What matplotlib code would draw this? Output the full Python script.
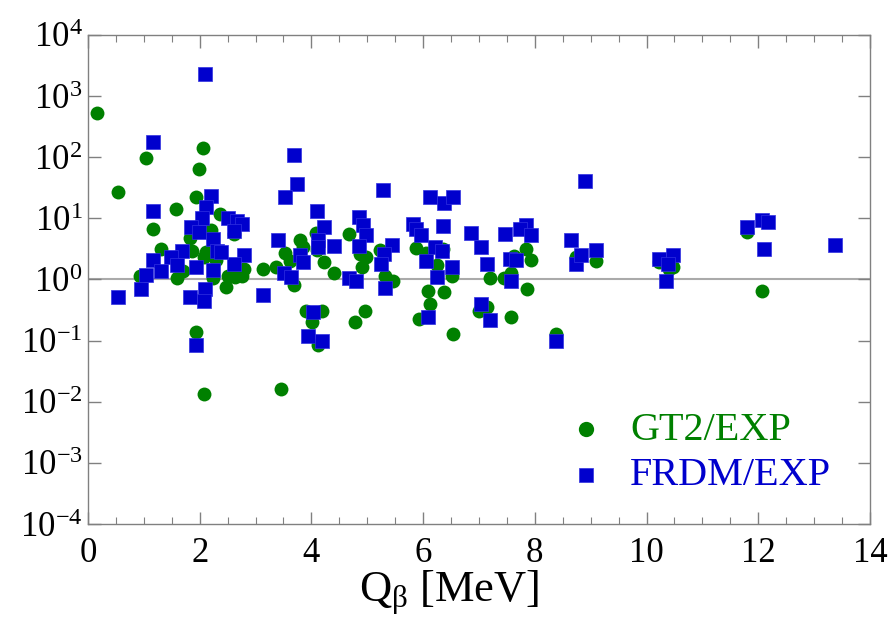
import matplotlib
matplotlib.use("Agg")
import matplotlib.pyplot as plt
import numpy as np

plt.rcParams['font.family'] = ['Liberation Serif', 'DejaVu Serif']
plt.rcParams['mathtext.fontset'] = 'custom'
plt.rcParams['mathtext.rm'] = 'Liberation Serif'
plt.rcParams['mathtext.it'] = 'Liberation Serif:italic'

# GT2/EXP ratios vs Q_beta
gt2_q = [0.17, 2.06, 1.04, 1.99, 0.53, 1.94, 1.57, 2.36, 2.62, 1.16,
         2.21, 1.82, 1.31, 1.87, 2.12, 2.08, 3.52, 2.30, 2.79, 3.14,
         3.37, 1.71, 0.93, 1.59, 2.23, 2.50, 2.63, 2.75, 3.69, 2.48,
         1.94, 2.08, 3.45, 3.79, 4.09, 4.67, 4.10, 3.85, 3.61, 4.23,
         4.40, 4.87, 4.97, 4.91, 5.22, 5.31, 5.46, 5.88, 6.06, 6.36,
         6.24, 6.52, 6.08, 6.37, 6.13, 5.93, 6.54, 7.00, 3.91, 4.19,
         4.01, 4.96, 4.78, 4.12, 7.84, 7.94, 7.57, 7.20, 7.45, 7.86,
         7.14, 7.58, 8.38, 8.74, 9.09, 10.22, 10.48, 10.40, 11.79, 12.06,
         7.62]
gt2_ratio = [520, 144, 97, 65, 27, 22, 14, 12, 5.5, 6.6,
             6.4, 4.7, 3.2, 2.9, 2.8, 2.3, 2.7, 2.1, 1.5, 1.5,
             1.6, 1.4, 1.16, 1.05, 1.05, 1.16, 1.1, 1.16, 0.8, 0.76,
             0.14, 0.0134, 0.016, 4.4, 5.8, 5.6, 3.0, 3.4, 2.0, 1.9,
             1.3, 2.6, 2.3, 1.6, 3.0, 1.16, 0.93, 3.3, 2.7, 3.2,
             1.7, 1.16, 0.66, 0.63, 0.4, 0.23, 0.13, 0.31, 0.3, 0.3,
             0.2, 0.3, 0.2, 0.085, 3.2, 2.1, 1.3, 1.05, 1.05, 0.71,
             0.36, 0.24, 0.13, 2.3, 2.0, 1.9, 1.6, 1.5, 6.0, 0.66,
             2.4]

# FRDM/EXP ratios vs Q_beta
frdm_q = [2.09, 1.17, 3.69, 3.74, 3.52, 2.20, 1.16, 2.11, 2.05, 2.50,
          2.66, 2.76, 2.62, 1.85, 1.99, 2.24, 3.40, 1.69, 2.31, 2.80,
          1.16, 1.49, 2.62, 1.59, 1.94, 1.31, 2.23, 3.51, 3.64, 1.04,
          0.53, 0.95, 1.83, 2.09, 2.07, 3.14, 1.94, 5.28, 4.10, 6.13,
          6.37, 6.54, 4.85, 4.92, 4.97, 4.23, 5.82, 5.88, 5.96, 6.36,
          6.86, 4.11, 4.11, 4.40, 3.80, 3.85, 4.85, 5.45, 5.30, 5.24,
          5.32, 4.67, 4.79, 6.22, 6.33, 6.05, 6.52, 6.24, 6.08, 7.03,
          7.03, 4.02, 3.94, 4.19, 8.90, 7.47, 7.84, 7.73, 7.94, 8.64,
          7.15, 7.56, 7.66, 7.58, 7.20, 8.38, 8.74, 8.83, 9.09, 10.22,
          10.48, 10.39, 10.35, 11.79, 12.06, 12.18, 12.11, 13.37, 2.38]
frdm_ratio = [2270, 175, 110, 36, 22, 23, 13, 15.5, 10, 10,
              9.2, 8.2, 6.2, 7.2, 6.0, 4.6, 4.5, 2.9, 2.9, 2.5,
              2.1, 2.3, 1.8, 1.7, 1.6, 1.4, 1.45, 1.3, 1.1, 1.2,
              0.52, 0.71, 0.51, 0.70, 0.45, 0.55, 0.085, 29, 13, 22,
              18, 22, 10.5, 7.7, 5.4, 7.2, 8.0, 6.8, 5.4, 7.4,
              5.8, 4.5, 3.4, 3.5, 2.5, 1.9, 3.5, 3.6, 2.6, 1.8,
              0.72, 1.07, 0.93, 3.4, 2.9, 2.0, 1.6, 1.1, 0.24, 0.4,
              3.4, 0.29, 0.12, 0.1, 41, 5.6, 7.9, 6.6, 5.3, 4.4,
              1.8, 2.2, 2.1, 0.96, 0.22, 0.1, 1.8, 2.5, 3.0, 2.2,
              2.5, 1.8, 0.96, 7.1, 9.3, 8.7, 3.1, 3.7, 2.8]

green = '#008000'
blue = '#0000cd'

fig = plt.figure(figsize=(8.94, 6.28), dpi=100)
ax = fig.add_axes([0.0984, 0.1656, 0.8747, 0.7787])

ax.axhline(1.0, color='#aaaaaa', lw=1.5, zorder=1)
ax.scatter(gt2_q, gt2_ratio, s=100, marker='o', color=green, linewidths=0,
           label='GT2/EXP', zorder=2)
ax.scatter(frdm_q, frdm_ratio, s=95, marker='s', color=blue, edgecolors='#3030e0',
           linewidths=0.5, label='FRDM/EXP', zorder=3)

ax.set_yscale('log')
ax.set_xlim(0, 14)
ax.set_ylim(1e-4, 1e4)
ax.set_xticks(np.arange(0, 15, 2))
ax.set_xticks(np.arange(0, 14.01, 0.5), minor=True)
ax.set_yticks([10.0 ** k for k in range(-4, 5)])

for s in ax.spines.values():
    s.set_color('#808080')
    s.set_linewidth(1.0)
ax.tick_params(which='both', direction='in', top=True, right=True,
               colors='#808080', labelcolor='black', labelsize=25)
ax.tick_params(which='major', length=9, width=1.0)
ax.tick_params(which='minor', length=5, width=0.8)
ax.tick_params(axis='x', which='major', pad=9)
ax.tick_params(axis='y', which='major', pad=4)

ax.set_xlabel(r'Q$_{\mathrm{\beta}}$ [MeV]', fontsize=32)
ax.xaxis.set_label_coords(0.462, -0.09)

leg = ax.legend(loc='lower right', bbox_to_anchor=(0.976, 0.02), frameon=False,
                fontsize=29, handletextpad=0.6, handlelength=1.0,
                labelspacing=0.2, borderpad=0,
                labelcolor=[green, blue], markerscale=1.1)

fig.savefig('out.png', dpi=100)
